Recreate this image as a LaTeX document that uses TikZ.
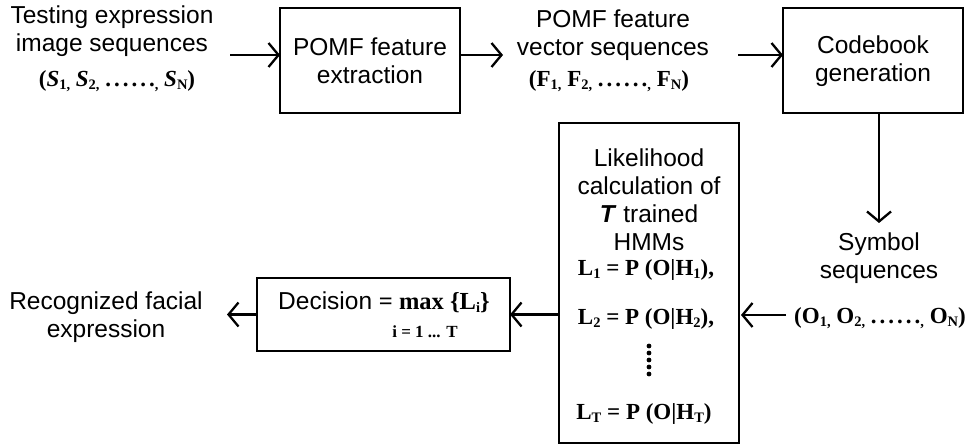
\documentclass[tikz,border=0pt]{standalone}
\usepackage{fontspec}
\setmainfont{Liberation Sans}
\newfontfamily\mathserif{Liberation Serif}
\usetikzlibrary{arrows.meta}

% bold serif formula text and its lowered, small subscripts
\newcommand\mf[1]{{\mathserif\bfseries #1}}
\newcommand\lsub[1]{\raisebox{-0.25ex}{\fontsize{14.5}{14.5}\selectfont #1}}
\newcommand\dotrun{.\hspace{3pt}.\hspace{3pt}.\hspace{3pt}.\hspace{3pt}.\hspace{3pt}.}

\begin{document}
\begin{tikzpicture}[x=1pt,y=-1pt,
  every node/.style={inner sep=0pt,outer sep=0pt,font=\fontsize{24.5}{28}\selectfont},
  box/.style={draw,line width=1.5pt},
  lbl/.style={align=center},
  formula/.style={font=\fontsize{23}{26}\selectfont\mathserif\bfseries},
  arr/.style={line width=2.3pt,-{Straight Barb[length=10pt,width=24pt,line width=2.3pt]}}]
\useasboundingbox (0,0) rectangle (968,446);

% top row
\node[lbl] (inT) at (112,31.5) {Testing expression\\image sequences};
\node[formula] (inS) at (117,81) {(\textit{S}\lsub{1}\lsub{,} \textit{S}\lsub{2}\lsub{,} \dotrun\lsub{,} \textit{S}\lsub{N})};
\node[box,minimum width=180pt,minimum height=105pt] (ext) at (370,60.5) {};
\node[lbl] (extT) at (370,61) {POMF feature\\extraction};
\node[lbl] (vecT) at (613,35.5) {POMF feature\\vector sequences};
\node[formula] (vecF) at (609,81) {(F\lsub{1}\lsub{,} F\lsub{2}\lsub{,} \dotrun\lsub{,} F\lsub{N})};
\node[box,minimum width=180pt,minimum height=105pt] (code) at (873,60.5) {};
\node[lbl] (codeT) at (873,61) {Codebook\\generation};

\coordinate (a1) at (230,55);
\coordinate (a2) at (503,55);
\coordinate (a3) at (738,55);
\draw[arr] (a1) -- (a1 -| ext.west);
\draw[arr] (ext.east |- a2) -- (a2);
\draw[arr] (a3) -- (a3 -| code.west);

% symbol sequences
\node[lbl] (symT) at (879,258) {Symbol\\sequences};
\node[formula] (symO) at (880,318) {(O\lsub{1}\lsub{,} O\lsub{2}\lsub{,} \dotrun\lsub{,} O\lsub{N})};
\coordinate (c1) at (879,223);
\draw[arr] (c1 |- code.south) -- (c1);

% likelihood box
\node[box,minimum width=180pt,minimum height=320pt] (lik) at (649,283) {};
\node[lbl] (likT) at (649,200) {Likelihood\\calculation of\\\textbf{\textit{T}} trained\\HMMs};
\node[formula] (L1) at (646,270) {L\lsub{1} = P (O|H\lsub{1}),};
\node[formula] (L2) at (646,319) {L\lsub{2} = P (O|H\lsub{2}),};
\node[formula] (LT) at (644,414) {L\lsub{T} = P (O|H\lsub{T})};
\foreach \yy in {346,353,360,367,374}
  \fill (649,\yy) circle (2.4pt);

% decision
\node[box,minimum width=253pt,minimum height=73pt] (dec) at (383.5,314.5) {};
\node (decT) at (384,302) {Decision \mf{= max \{L\lsub{i}\}}};
\node[formula,font=\fontsize{17}{18}\selectfont\mathserif\bfseries] (decI) at (425,332) {i = 1 ... T};
\node[lbl] (outT) at (106,317) {Recognized facial\\expression};

\coordinate (b1) at (741,315);
\coordinate (b2) at (786,315);
\coordinate (b3) at (227,313);
\draw[arr] (b2) -- (b1);
\draw[arr] (lik.west |- dec.east) -- (dec.east);
\draw[arr] (dec.west) -- (b3 |- dec.west);
\end{tikzpicture}
\end{document}
